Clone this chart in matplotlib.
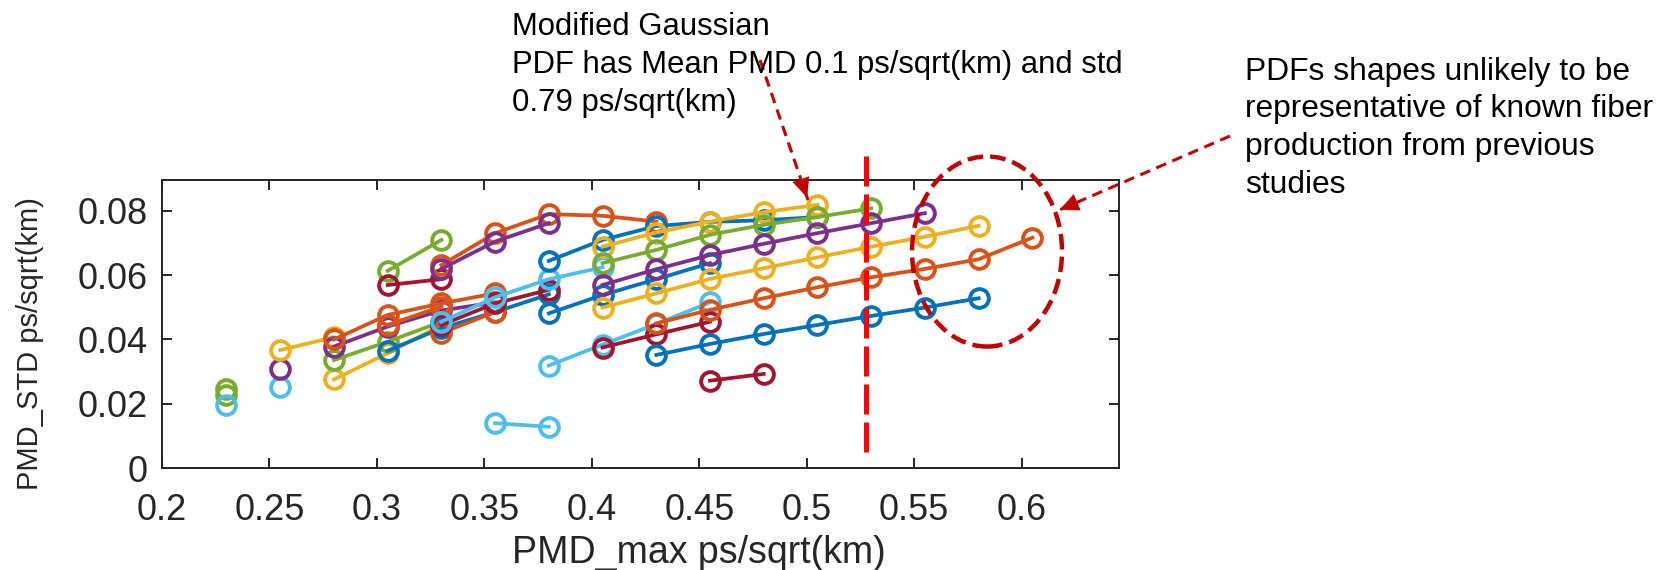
import matplotlib.pyplot as plt
from matplotlib.patches import Ellipse, FancyArrowPatch
from matplotlib.lines import Line2D

plt.rcParams['font.family'] = ['Liberation Sans', 'DejaVu Sans']

# MATLAB default colour order
blue = '#0072BD'
orange = '#D95319'
yellow = '#EDB120'
purple = '#7E2F8E'
green = '#77AC30'
light_blue = '#4DBEEE'
dark_red = '#A2142F'
axis_grey = '#262626'
note_red = '#C00000'

# PMD_max / PMD_STD sweeps (ps/sqrt(km)), one list pair per PDF shape
x_g1, y_g1 = [0.23], [0.0245]
x_g2, y_g2 = [0.23], [0.0228]
x_lb1, y_lb1 = [0.23], [0.0197]
x_lb2, y_lb2 = [0.255], [0.0252]
x_p1, y_p1 = [0.255], [0.0308]
x_y1, y_y1 = [0.255, 0.28], [0.0367, 0.0407]
x_y2, y_y2 = [0.28, 0.305, 0.33], [0.0276, 0.0357, 0.0445]
x_g3, y_g3 = [0.28, 0.305, 0.33], [0.0336, 0.0393, 0.0455]
x_p2, y_p2 = [0.28, 0.305, 0.33, 0.355], [0.0378, 0.0440, 0.0490, 0.0515]
x_o1, y_o1 = [0.28, 0.305, 0.33, 0.355], [0.0400, 0.0476, 0.0512, 0.0543]
x_o2, y_o2 = [0.305, 0.33], [0.0445, 0.0502]
x_g4, y_g4 = [0.305, 0.33], [0.0613, 0.0709]
x_r1, y_r1 = [0.305, 0.33], [0.0569, 0.0587]
x_o3, y_o3 = [0.33, 0.355, 0.38, 0.405, 0.43], [0.0631, 0.0730, 0.0789, 0.0784, 0.0766]
x_p3, y_p3 = [0.33, 0.355, 0.38], [0.0619, 0.0704, 0.0761]
x_b1, y_b1 = [0.305, 0.33, 0.355, 0.38], [0.0365, 0.0435, 0.0485, 0.0540]
x_o4, y_o4 = [0.33, 0.355], [0.0420, 0.0485]
x_r2, y_r2 = [0.33, 0.355, 0.38], [0.0445, 0.0512, 0.0554]
x_lb3, y_lb3 = [0.33, 0.355, 0.38, 0.405], [0.0455, 0.0531, 0.0587, 0.0624]
x_lb4, y_lb4 = [0.355, 0.38], [0.0140, 0.0129]
x_b2, y_b2 = [0.38, 0.405, 0.43, 0.455, 0.48, 0.505], [0.0644, 0.0709, 0.0752, 0.0765, 0.0770, 0.0780]
x_b3, y_b3 = [0.38, 0.405, 0.43, 0.455], [0.0481, 0.0538, 0.0587, 0.0637]
x_lb5, y_lb5 = [0.38, 0.405, 0.43, 0.455], [0.0319, 0.0384, 0.0448, 0.0515]
x_y3, y_y3 = [0.405, 0.43, 0.455, 0.48, 0.505], [0.0688, 0.0732, 0.0766, 0.0795, 0.0818]
x_g5, y_g5 = [0.405, 0.43, 0.455, 0.48, 0.505, 0.53], [0.0637, 0.0678, 0.0725, 0.0756, 0.0780, 0.0807]
x_p4, y_p4 = [0.405, 0.43, 0.455, 0.48, 0.505, 0.53, 0.555], [0.0569, 0.0618, 0.0662, 0.0697, 0.0730, 0.0761, 0.0792]
x_y4, y_y4 = [0.405, 0.43, 0.455, 0.48, 0.505, 0.53, 0.555, 0.58], [0.0499, 0.0543, 0.0588, 0.0621, 0.0655, 0.0688, 0.0719, 0.0753]
x_r3, y_r3 = [0.405, 0.43, 0.455], [0.0375, 0.0416, 0.0455]
x_o5, y_o5 = [0.43, 0.455, 0.48, 0.505, 0.53, 0.555, 0.58, 0.605], [0.0450, 0.0492, 0.0528, 0.0562, 0.0593, 0.0619, 0.0649, 0.0716]
x_b4, y_b4 = [0.43, 0.455, 0.48, 0.505, 0.53, 0.555, 0.58], [0.0352, 0.0386, 0.0417, 0.0445, 0.0473, 0.0499, 0.0528]
x_r4, y_r4 = [0.455, 0.48], [0.0272, 0.0293]

sweeps = [
    (green, x_g1, y_g1), (green, x_g2, y_g2), (light_blue, x_lb1, y_lb1),
    (light_blue, x_lb2, y_lb2), (purple, x_p1, y_p1), (yellow, x_y1, y_y1),
    (yellow, x_y2, y_y2), (green, x_g3, y_g3), (purple, x_p2, y_p2),
    (orange, x_o1, y_o1), (orange, x_o2, y_o2), (green, x_g4, y_g4),
    (dark_red, x_r1, y_r1), (orange, x_o3, y_o3), (purple, x_p3, y_p3),
    (blue, x_b1, y_b1), (orange, x_o4, y_o4), (dark_red, x_r2, y_r2),
    (light_blue, x_lb3, y_lb3), (light_blue, x_lb4, y_lb4), (blue, x_b2, y_b2),
    (blue, x_b3, y_b3), (light_blue, x_lb5, y_lb5), (yellow, x_y3, y_y3),
    (green, x_g5, y_g5), (purple, x_p4, y_p4), (yellow, x_y4, y_y4),
    (dark_red, x_r3, y_r3), (orange, x_o5, y_o5), (blue, x_b4, y_b4),
    (dark_red, x_r4, y_r4),
]

x_ticks = [0.2, 0.25, 0.3, 0.35, 0.4, 0.45, 0.5, 0.55, 0.6]
x_tick_labels = ['0.2', '0.25', '0.3', '0.35', '0.4', '0.45', '0.5', '0.55', '0.6']
y_ticks = [0, 0.02, 0.04, 0.06, 0.08]
y_tick_labels = ['0', '0.02', '0.04', '0.06', '0.08']

pmd_limit = 0.5275   # dashed cut-off line

note_left = ['Modified Gaussian',
             'PDF has Mean PMD 0.1 ps/sqrt(km) and std',
             '0.79 ps/sqrt(km)']
note_right = ['PDFs shapes unlikely to be',
              'representative of known fiber',
              'production from previous',
              'studies']

W, H = 1659, 570
fig = plt.figure(figsize=(W / 100, H / 100), dpi=100)


def fpos(x, y):
    # pixel position (from top-left) -> figure fraction
    return x / W, 1 - y / H


ax = fig.add_axes([162 / W, 1 - 468.3 / H, (1119 - 162) / W, (468.3 - 180) / H])

for color, xs, ys in sweeps:
    ax.plot(xs, ys, '-o', color=color, lw=2.7, ms=13.5, mew=2.8,
            mfc='none', mec=color)

ax.set_xlim(0.2, 0.6453)
ax.set_ylim(0, 0.0895)
ax.set_xticks(x_ticks)
ax.set_xticklabels(x_tick_labels)
ax.set_yticks(y_ticks)
ax.set_yticklabels(y_tick_labels)
ax.tick_params(direction='in', length=7, width=1.4, top=True, right=True,
               labelsize=26, labelcolor=axis_grey, color=axis_grey)
ax.tick_params(axis='x', pad=18)
ax.tick_params(axis='y', pad=10)
for sp in ax.spines.values():
    sp.set_color(axis_grey)
    sp.set_linewidth(1.4)

fig.text(*fpos(699, 553), 'PMD_max ps/sqrt(km)', fontsize=27, color=axis_grey,
         ha='center', va='center')
fig.text(*fpos(30, 344), 'PMD_STD ps/sqrt(km)', fontsize=21, color=axis_grey,
         ha='center', va='center', rotation=90)

# cut-off line, runs slightly past the top of the box
ax.plot([pmd_limit, pmd_limit], [0.0968, 0.0026], color='#FF0000', lw=3.6,
        dashes=(6, 1.6), clip_on=False, zorder=5)

# region of unlikely PDF shapes
ring = Ellipse((0.5839, 0.0673), 0.0698, 0.059, fill=False, ec=note_red,
               lw=3.2, ls=(0, (3.5, 1.6)), clip_on=False, zorder=6)
ax.add_patch(ring)

# notes
for i, line in enumerate(note_left):
    fig.text(*fpos(512, 35 + 38 * i), line, fontsize=22.4, va='baseline')
for i, line in enumerate(note_right):
    fig.text(*fpos(1245, 80 + 37.5 * i), line, fontsize=22.9, va='baseline')


def dashed_arrow(p0, p1):
    x0, y0 = fpos(*p0)
    x1, y1 = fpos(*p1)
    fig.add_artist(Line2D([x0, x1], [y0, y1], transform=fig.transFigure,
                          color=note_red, lw=2.2, dashes=(3.5, 2.2)))
    # solid head over the last part of the shaft
    hx = x1 - (x1 - x0) * 0.12
    hy = y1 - (y1 - y0) * 0.12
    fig.add_artist(FancyArrowPatch((hx, hy), (x1, y1), transform=fig.transFigure,
                                   arrowstyle='-|>,head_length=0.65,head_width=0.3',
                                   mutation_scale=20, color=note_red, lw=0.5))


dashed_arrow((760, 60), (808, 200))
dashed_arrow((1230, 136), (1057, 211))

fig.savefig('out.png', dpi=100)
